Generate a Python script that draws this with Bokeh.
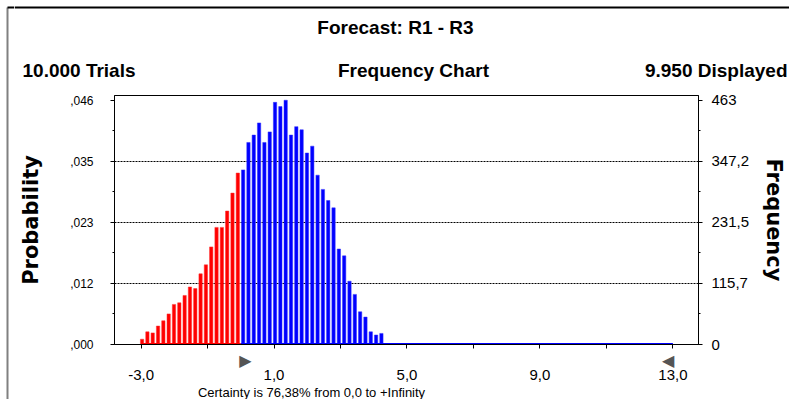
from bokeh.plotting import figure
from bokeh.layouts import column, row
from bokeh.models import LinearAxis, FixedTicker, Range1d, Grid
from bokeh.core.properties import value
from bokeh.embed import file_html
from bokeh.resources import INLINE

# ---------------- data ----------------
bin_start = -3.0
bin_width = 0.16
bar_offset = 0.03
red_freq = [10, 24, 22, 35, 45, 58, 76, 79, 93, 109, 106, 134, 151, 185, 222, 222, 253, 287, 325]
blue_freq = [331, 383, 397, 420, 383, 403, 459, 451, 463, 397, 413, 407, 363, 376, 321, 294,
             273, 259, 181, 168, 120, 95, 62, 52, 24, 18, 21]
certainty_start = 0.0
range_end = 13.0
x_ticks = [-3, -1, 1, 3, 5, 7, 9, 11, 13]
x_tick_labels = ["-3,0", "", "1,0", "", "5,0", "", "9,0", "", "13,0"]
freq_ticks = [0, 115.75, 231.5, 347.25, 463]
freq_minor = [57.875, 173.625, 289.375, 405.125]
freq_labels = ["0", "115,7", "231,5", "347,2", "463"]
prob_labels = [",000", ",012", ",023", ",035", ",046"]

title_text = "Forecast: R1 - R3"
trials_text = "10.000 Trials"
chart_text = "Frequency Chart"
displayed_text = "9.950 Displayed"
certainty_text = "Certainty is 76,38% from 0,0 to +Infinity"

SANS = "Liberation Sans"
BOLDF = "DejaVu Sans"

n_red = len(red_freq)
red_x = [bin_start + i * bin_width + bar_offset for i in range(n_red)]
blue_x = [bin_start + (n_red + i) * bin_width + bar_offset for i in range(len(blue_freq))]

H_TOTAL = 399
STRIP = 14                 # left strip holding the outer border line
W = 789 - STRIP
H_HEAD, H_MAIN = 88, 296
H_FOOT = H_TOTAL - H_HEAD - H_MAIN


def no_align(f):
    try:
        f.frame_align = False
    except Exception:
        pass


def blank(width, height):
    f = figure(width=width, height=height, x_range=Range1d(0, width), y_range=Range1d(height, 0),
               output_backend="svg", toolbar_location=None,
               x_axis_location=None, y_axis_location=None,
               min_border=0, min_border_left=0, min_border_right=0,
               min_border_top=0, min_border_bottom=0)
    f.outline_line_color = None
    f.grid.visible = False
    f.background_fill_color = "white"
    f.border_fill_color = "white"
    no_align(f)
    return f


def txt(f, x, y, s, align="center", size="19px", style="bold", font=SANS):
    f.text(x=[x], y=[y], text=[s], text_align=align, text_baseline="middle",
           text_font=value(font), text_font_size=size, text_font_style=style,
           text_color="black")


# ---------------- outer border (left strip) ----------------
strip = blank(STRIP, H_TOTAL)
strip.line(x=[7, 7], y=[7, H_TOTAL], line_color="#808080", line_width=2)
strip.line(x=[7, STRIP], y=[7, 7], line_color="black", line_width=2)

# ---------------- header ----------------
head = blank(W, H_HEAD)
head.line(x=[0, W], y=[7, 7], line_color="black", line_width=2)
txt(head, 395 - STRIP, 27, title_text)
txt(head, 22 - STRIP, 70, trials_text, align="left")
txt(head, 413 - STRIP, 70, chart_text)
txt(head, W - 2, 70, displayed_text, align="right")

# ---------------- main chart ----------------
p = figure(width=W, height=H_MAIN, x_range=Range1d(-3.8, 13.77), y_range=Range1d(0, 472),
           output_backend="svg", toolbar_location=None,
           x_axis_type=None, y_axis_type=None,
           min_border_left=114 - STRIP, min_border_right=85, min_border_top=7,
           min_border_bottom=H_MAIN - 7 - 249)
p.outline_line_color = "black"
p.background_fill_color = "white"
p.border_fill_color = "white"
no_align(p)

grid = Grid(dimension=1, ticker=FixedTicker(ticks=freq_ticks[1:4]),
            grid_line_color="black", grid_line_dash="2 1", grid_line_width=1)
p.add_layout(grid)

p.vbar(x=red_x, top=red_freq, width=0.1, fill_color="#ff0000", line_color="#ff3030", line_width=0.5)
p.vbar(x=blue_x, top=blue_freq, width=0.1, fill_color="#0000ff", line_color="#3030ff", line_width=0.5)
p.line([bin_start, certainty_start], [0, 0], line_color="#ff0000", line_width=3)
p.line([certainty_start, range_end], [0, 0], line_color="#0000ff", line_width=3)

# certainty-range markers + tick marks (axis closest to the frame)
tri_half = 0.14
tri_ticks = [certainty_start + tri_half, range_end - tri_half]
tri_axis = LinearAxis(ticker=FixedTicker(ticks=tri_ticks, minor_ticks=x_ticks),
                      major_label_overrides={tri_ticks[0]: "\u25B6", tri_ticks[1]: "\u25C0"},
                      major_tick_out=0, major_tick_in=0, minor_tick_out=4, minor_tick_in=0,
                      major_label_standoff=2,
                      major_label_text_font="DejaVu Sans", major_label_text_font_size="16px",
                      major_label_text_color="#555555", axis_line_color="black")
p.add_layout(tri_axis, "below")

num_axis = LinearAxis(ticker=FixedTicker(ticks=x_ticks),
                      major_label_overrides={t: l for t, l in zip(x_ticks, x_tick_labels)},
                      major_tick_out=0, major_tick_in=0, minor_tick_out=0, minor_tick_in=0,
                      major_label_standoff=-3, axis_line_color=None,
                      major_label_text_font=SANS, major_label_text_font_size="15px",
                      major_label_text_color="black")
p.add_layout(num_axis, "below")

lax = LinearAxis(ticker=FixedTicker(ticks=freq_ticks, minor_ticks=freq_minor),
                 major_label_overrides={t: l for t, l in zip(freq_ticks, prob_labels)},
                 major_tick_out=4, major_tick_in=0, minor_tick_out=2, minor_tick_in=0,
                 major_label_standoff=17,
                 major_label_text_font=SANS, major_label_text_font_size="12px",
                 major_label_text_color="black", axis_line_color="black",
                 axis_label="Probability", axis_label_standoff=24,
                 axis_label_text_font=BOLDF, axis_label_text_font_size="21px",
                 axis_label_text_font_style="bold", axis_label_text_color="black")
p.add_layout(lax, "left")

rax = LinearAxis(ticker=FixedTicker(ticks=freq_ticks, minor_ticks=freq_minor),
                 major_label_overrides={t: l for t, l in zip(freq_ticks, freq_labels)},
                 major_tick_out=4, major_tick_in=0, minor_tick_out=2, minor_tick_in=0,
                 major_label_standoff=9,
                 major_label_text_font=SANS, major_label_text_font_size="15px",
                 major_label_text_color="black", axis_line_color="black",
                 axis_label="Frequency", axis_label_standoff=10,
                 axis_label_text_font=BOLDF, axis_label_text_font_size="21px",
                 axis_label_text_font_style="bold", axis_label_text_color="black")
p.add_layout(rax, "right")

# ---------------- footer ----------------
foot = blank(W, H_FOOT)
txt(foot, 311 - STRIP, H_FOOT / 2, certainty_text, size="13px", style="normal")

layout = row(strip, column(head, p, foot, spacing=0), spacing=0)
open("out.html", "w").write(file_html(layout, INLINE))
